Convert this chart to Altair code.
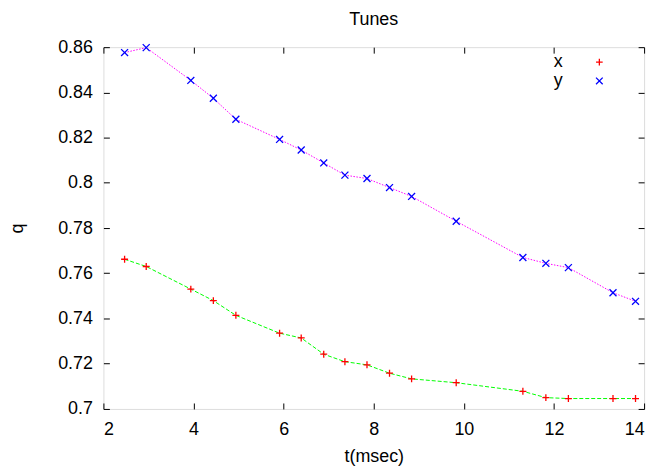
import altair as alt
import pandas as pd

# ---- data ----
t_vals = [2.47, 2.95, 3.94, 4.44, 4.94, 5.91, 6.39, 6.89, 7.36, 7.85,
          8.35, 8.84, 9.83, 11.31, 11.82, 12.32, 13.31, 13.81]
q_x = [0.7662, 0.7630, 0.7530, 0.7479, 0.7414, 0.7335, 0.7314, 0.7242, 0.7209,
       0.7195, 0.7158, 0.7133, 0.7116, 0.7078, 0.7050, 0.7046, 0.7046, 0.7046]
q_y = [0.8576, 0.8598, 0.8453, 0.8374, 0.8281, 0.8192, 0.8145, 0.8088, 0.8034,
       0.8019, 0.7979, 0.7940, 0.7830, 0.7670, 0.7644, 0.7625, 0.7514, 0.7476]
series_names = ["x", "y"]
label_keys = [" x", " y"]   # same names, kept apart so the label-only legend stays separate
x_ticks = [2, 4, 6, 8, 10, 12, 14]
y_ticks = [0.70, 0.72, 0.74, 0.76, 0.78, 0.80, 0.82, 0.84, 0.86]

df = pd.DataFrame({
    "t": t_vals + t_vals,
    "q": q_x + q_y,
    "series": ["x"] * len(t_vals) + ["y"] * len(t_vals),
})
df["label"] = " " + df["series"]

FONT = "Liberation Sans"
PLUS = "M-1,0L1,0M0,-1L0,1"
CROSS = "M-1,-1L1,1M-1,1L1,-1"

xscale = alt.Scale(domain=[2, 14], nice=False, zero=False)
yscale = alt.Scale(domain=[0.70, 0.86], nice=False, zero=False)

x_axis = alt.Axis(values=x_ticks, orient="bottom", domain=False, grid=False,
                  offset=-6, tickSize=6, tickColor="black", labelPadding=12,
                  labelFontSize=18, labelFont=FONT, labelColor="black",
                  title="t(msec)", titleFont=FONT, titleFontSize=18,
                  titleFontWeight="normal", titleColor="black", titlePadding=9)
y_axis = alt.Axis(values=y_ticks, orient="left", domain=False, grid=False,
                  offset=-6, tickSize=6, tickColor="black", labelPadding=11,
                  labelFontSize=18, labelFont=FONT, labelColor="black",
                  format=".2~f",
                  title="q", titleFont=FONT, titleFontSize=18,
                  titleFontWeight="normal", titleColor="black", titlePadding=31)
x_axis_top = alt.Axis(values=x_ticks, orient="top", domain=False, grid=False,
                      offset=-6, tickSize=6, tickColor="black", labels=False,
                      title=None)
y_axis_right = alt.Axis(values=y_ticks, orient="right", domain=False, grid=False,
                        offset=-6, tickSize=6, tickColor="black", labels=False,
                        title=None)

base = alt.Chart(df)

line_x = base.transform_filter(alt.datum.series == "x").mark_line(
    color="#00ff00", strokeWidth=1, strokeDash=[4, 2]
).encode(
    x=alt.X("t:Q", scale=xscale, axis=None),
    y=alt.Y("q:Q", scale=yscale, axis=None),
)
line_y = base.transform_filter(alt.datum.series == "y").mark_line(
    color="#ff00ff", strokeWidth=1, strokeDash=[1.5, 1.5]
).encode(
    x=alt.X("t:Q", scale=xscale, axis=None),
    y=alt.Y("q:Q", scale=yscale, axis=None),
)

points = base.mark_point(filled=False, strokeWidth=1.3, opacity=1).encode(
    x=alt.X("t:Q", scale=xscale, axis=x_axis),
    y=alt.Y("q:Q", scale=yscale, axis=y_axis),
    color=alt.Color("series:N",
                    scale=alt.Scale(domain=series_names, range=["#ff0000", "#0000ff"]),
                    legend=alt.Legend(title=None, orient="none", legendX=490, legendY=6,
                                      labelExpr="''", symbolSize=45,
                                      symbolStrokeWidth=1.3, rowPadding=1,
                                      labelFontSize=18, padding=0)),
    shape=alt.Shape("series:N",
                    scale=alt.Scale(domain=series_names, range=[PLUS, CROSS])),
    size=alt.Size("label:O",
                  scale=alt.Scale(domain=label_keys, range=[49, 49]),
                  legend=alt.Legend(title=None, orient="none", legendX=435, legendY=6,
                                    symbolOpacity=0, symbolStrokeWidth=0,
                                    labelExpr="trim(datum.label)",
                                    labelFont=FONT, labelFontSize=18,
                                    labelColor="black", labelOffset=0,
                                    rowPadding=1, padding=0)),
)

mirror = base.mark_point(opacity=0).encode(
    x=alt.X("t:Q", scale=xscale, axis=x_axis_top),
    y=alt.Y("q:Q", scale=yscale, axis=y_axis_right),
)

chart = alt.layer(line_x, line_y, points, mirror).resolve_axis(
    x="independent", y="independent"
).properties(
    width=544,
    height=364,
    title=alt.TitleParams("Tunes", font=FONT, fontSize=18, fontWeight="normal",
                          color="black", anchor="middle", baseline="alphabetic",
                          frame="group", offset=0, dy=5),
    autosize=alt.AutoSizeParams(type="none"),
    padding={"left": 96, "top": 38, "right": 14, "bottom": 56},
).configure_view(stroke="black", strokeWidth=1.2).configure(background="white")

chart.save("out.html", embed_options={"renderer": "svg", "actions": False})
